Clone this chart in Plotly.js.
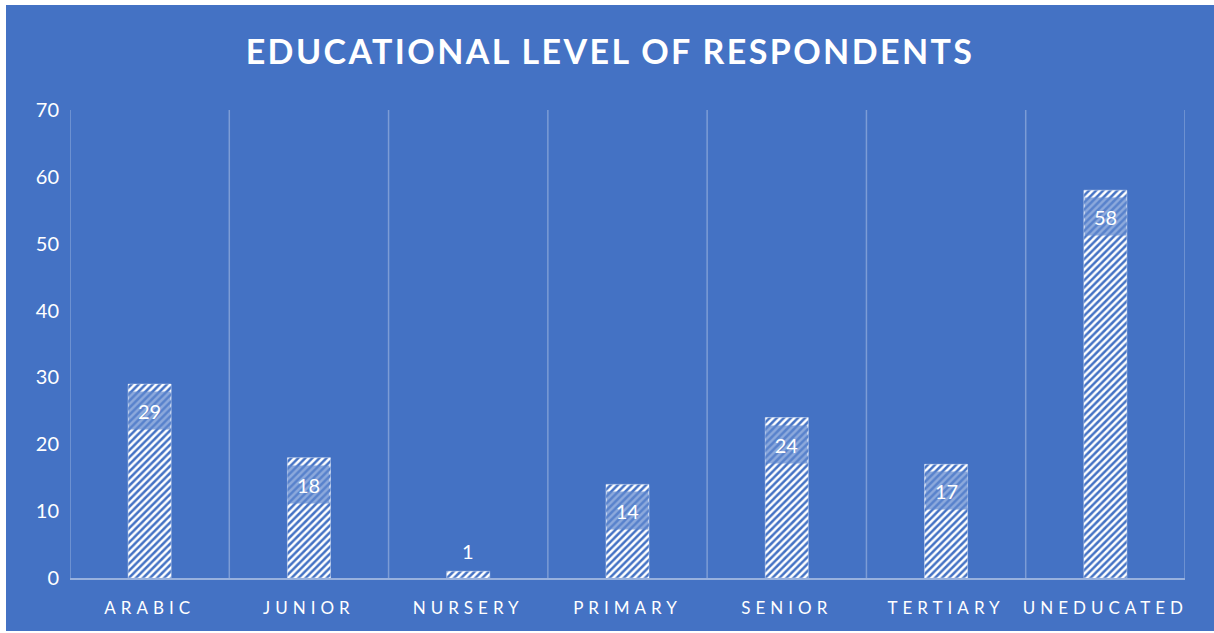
<!DOCTYPE html>
<html>
<head>
<meta charset="utf-8">
<script src="https://cdn.plot.ly/plotly-3.0.1.min.js"></script>
<style>
  html, body { margin: 0; padding: 0; background: #ffffff; width: 1214px; height: 633px; overflow: hidden; }
  #chart { position: absolute; left: 6px; top: 5px; width: 1208px; height: 626px; }
  .xtick text { letter-spacing: 5px; }
  .gtitle { letter-spacing: 2.4px; }
</style>
</head>
<body>
<div id="chart"></div>
<script>
const categories = ["ARABIC", "JUNIOR", "NURSERY", "PRIMARY", "SENIOR", "TERTIARY", "UNEDUCATED"];
const values = [29, 18, 1, 14, 24, 17, 58];
const yTicks = [0, 10, 20, 30, 40, 50, 60, 70];

const BG = "#4472C4";
const FONT = "Lato, 'Open Sans', sans-serif";

const trace = {
  type: "bar",
  x: categories,
  y: values,
  width: 0.27,
  marker: {
    color: BG,
    pattern: { shape: "/", fgcolor: "#ffffff", bgcolor: BG, size: 5, solidity: 0.5 },
    line: { color: "rgba(255,255,255,0.8)", width: 0.5 }
  },
  hoverinfo: "skip",
  showlegend: false
};

const annotations = categories.map((c, i) => {
  const v = values[i];
  if (v < 5) {
    return { x: c, y: v, xref: "x", yref: "y", text: String(v), showarrow: false,
      yanchor: "bottom", yshift: 6, font: { family: FONT, size: 20, color: "#ffffff" } };
  }
  return { x: c, y: v, xref: "x", yref: "y", text: String(v), showarrow: false,
    yanchor: "top", yshift: -7, width: 41, height: 37, bgcolor: "rgba(96,136,206,0.72)",
    borderpad: 0, font: { family: FONT, size: 20, color: "#ffffff" } };
});

const shapes = [];
for (let i = 0; i <= categories.length; i++) {
  shapes.push({ type: "line", xref: "x", yref: "paper", x0: i - 0.5, x1: i - 0.5, y0: 0, y1: 1,
    line: { color: "rgba(255,255,255,0.3)", width: 1.5 }, layer: "below" });
}

const layout = {
  width: 1208,
  height: 626,
  paper_bgcolor: BG,
  plot_bgcolor: BG,
  margin: { l: 64, r: 29, t: 105, b: 53 },
  title: {
    text: "<b>EDUCATIONAL LEVEL OF RESPONDENTS</b>",
    font: { family: FONT, size: 34, color: "#ffffff" },
    x: 0.5, xanchor: "center", y: 0.925, yanchor: "middle"
  },
  xaxis: {
    type: "category",
    range: [-0.5, categories.length - 0.5],
    showgrid: false,
    showline: true,
    linecolor: "rgba(255,255,255,0.45)",
    linewidth: 1.5,
    ticks: "",
    ticklabelstandoff: 14,
    tickfont: { family: FONT, size: 17, color: "#ffffff" },
    fixedrange: true
  },
  yaxis: {
    range: [0, 70],
    tickvals: yTicks,
    ticktext: yTicks.map(String),
    showgrid: false,
    zeroline: false,
    showline: false,
    ticks: "",
    ticklabelstandoff: 10,
    tickfont: { family: FONT, size: 20, color: "#ffffff" },
    fixedrange: true
  },
  shapes: shapes,
  annotations: annotations,
  bargap: 0
};

Plotly.newPlot("chart", [trace], layout, { displayModeBar: false, staticPlot: true });
</script>
</body>
</html>
